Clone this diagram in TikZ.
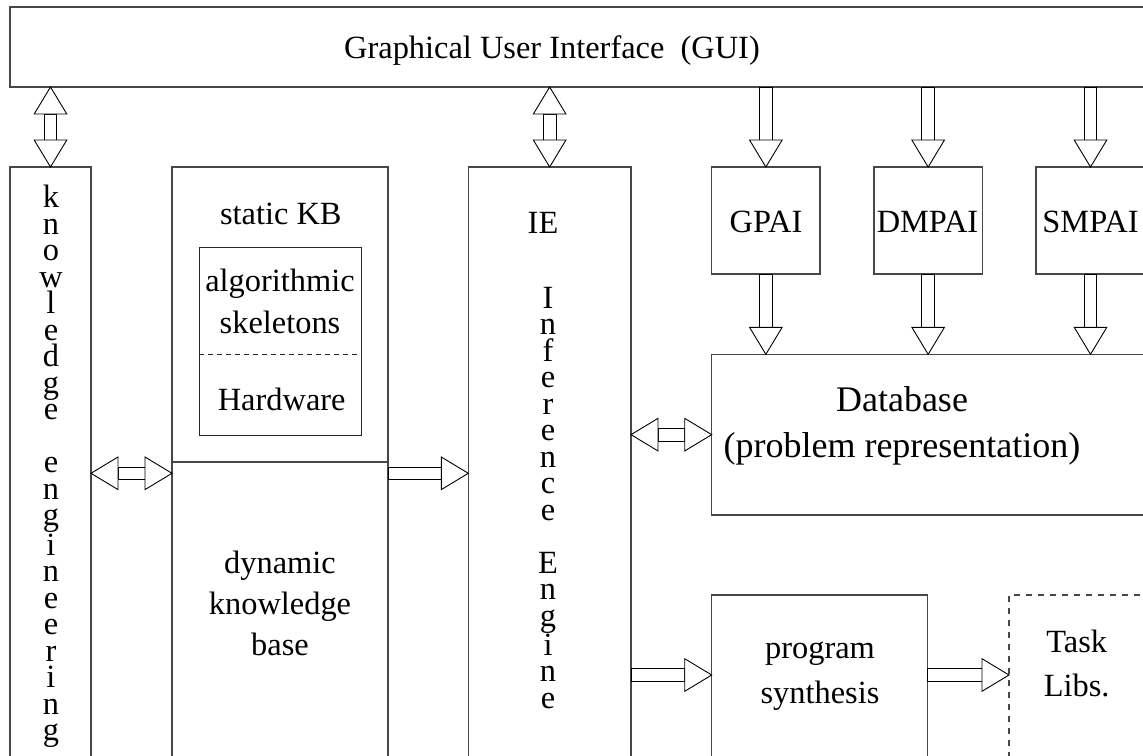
\documentclass[tikz,border=0pt]{standalone}
\usepackage{fontspec}
\setmainfont{Liberation Serif}
\usetikzlibrary{calc}
\newcommand\mkbox[6][]{%
  \node[box,#1,minimum width={#5-#3},minimum height={#6-#4}] (#2) at (#3,#4) {};}
\newcommand\blkone[2]{%
  \coordinate (bh) at ($(#2)!27pt!(#1)$);
  \draw[arr] ($(#1)!6.3pt!90:(#2)$) -- ($(bh)!6.3pt!90:(#2)$) -- ($(bh)!6.3pt!-90:(#2)$) -- ($(#1)!6.3pt!-90:(#2)$) -- cycle;
  \draw[arr] ($(bh)!16.3pt!90:(#2)$) -- (#2) -- ($(bh)!16.3pt!-90:(#2)$) -- cycle;}
\newcommand\blktwo[2]{%
  \coordinate (bt) at ($(#1)!27pt!(#2)$);
  \coordinate (bh) at ($(#2)!27pt!(#1)$);
  \draw[arr] ($(bt)!6.3pt!90:(#2)$) -- ($(bh)!6.3pt!90:(#2)$) -- ($(bh)!6.3pt!-90:(#2)$) -- ($(bt)!6.3pt!-90:(#2)$) -- cycle;
  \draw[arr] ($(bh)!16.3pt!90:(#2)$) -- (#2) -- ($(bh)!16.3pt!-90:(#2)$) -- cycle;
  \draw[arr] ($(bt)!16.3pt!90:(#1)$) -- (#1) -- ($(bt)!16.3pt!-90:(#1)$) -- cycle;}
\begin{document}
\begin{tikzpicture}[x=1pt,y=-1pt,
  box/.style={draw=black!72,line width=1.1pt,inner sep=0pt,outer sep=0pt,anchor=north west},
  arr/.style={draw=black,line width=0.9pt,fill=white,line join=miter},
  txt/.style={font=\fontsize{32.4}{40}\selectfont,inner sep=0pt,align=center},
  vtxt/.style={font=\fontsize{32.4}{26.5}\selectfont,inner sep=0pt,align=center,anchor=north}]
\useasboundingbox (0,0) rectangle (1143,755);
\clip (0,0) rectangle (1143,755);
% boxes
\mkbox{gui}{10}{7}{1170}{87}
\mkbox{ke}{10}{167}{91}{800}
\mkbox{skb}{172}{167}{388}{462}
\mkbox{dkb}{172}{462}{388}{800}
\mkbox[draw=black!85,line width=0.9pt]{inner}{199}{247.7}{361}{435}
\coordinate (dl) at (0,354);
\draw[black!85,line width=0.9pt,dash pattern=on 5pt off 4pt] (inner.west |- dl) -- (inner.east |- dl);
\mkbox{ie}{468.3}{167}{631}{800}
\mkbox{gpai}{711.7}{167}{820}{274}
\mkbox{dmpai}{874}{167}{982.3}{274}
\mkbox{smpai}{1036}{167}{1145}{274}
\mkbox{db}{711.7}{354.3}{1170}{515}
\mkbox{ps}{711.7}{595}{927.7}{800}
\mkbox[dash pattern=on 6pt off 6pt]{tl}{1009}{595}{1170}{800}
% texts
\node[txt,anchor=base] (guit) at (552,58) {Graphical User Interface\ \ (GUI)};
\node[vtxt] (ket) at (51,185) {k\\n\\o\\w\\l\\e\\d\\g\\e\\[26.5pt]e\\n\\g\\i\\n\\e\\e\\r\\i\\n\\g};
\node[txt,anchor=base] (skbt) at (280.8,224) {static KB};
\node[txt,anchor=north,font=\fontsize{32.4}{42.6}\selectfont] (algt) at (280,268.6) {algorithmic\\skeletons};
\node[txt,anchor=base] (hwt) at (281.7,410) {Hardware};
\node[txt,anchor=north,font=\fontsize{32.4}{41}\selectfont] (dkbt) at (280,551) {dynamic\\knowledge\\base};
\node[txt,anchor=base] (iet) at (543,233.3) {IE};
\node[vtxt] (iet2) at (548,286.6) {I\\n\\f\\e\\r\\e\\n\\c\\e\\[26.5pt]E\\n\\g\\i\\n\\e};
\node[txt,anchor=base] (gpait) at (766,232.7) {GPAI};
\node[txt,anchor=base] (dmpait) at (927.5,232.7) {DMPAI};
\node[txt,anchor=base] (smpait) at (1090.5,232.7) {SMPAI};
\node[txt,anchor=north,font=\fontsize{36}{46}\selectfont] (dbt) at (902,386.4) {Database\\(problem representation)};
\node[txt,anchor=north,font=\fontsize{32.4}{45}\selectfont] (pst) at (820,641.4) {program\\synthesis};
\node[txt,anchor=north,font=\fontsize{32.4}{43.3}\selectfont] (tlt) at (1076.7,630.3) {Task\\Libs.};
% connectors
\coordinate (c1) at (gui.south -| ke.north);
\blktwo{c1}{ke.north}
\coordinate (c2) at (gui.south -| ie.north);
\blktwo{c2}{ie.north}
\coordinate (c3) at (gui.south -| gpai.north);
\blkone{c3}{gpai.north}
\coordinate (c4) at (gui.south -| dmpai.north);
\blkone{c4}{dmpai.north}
\coordinate (c5) at (gui.south -| smpai.north);
\blkone{c5}{smpai.north}
\coordinate (c6) at (gpai.south |- db.north);
\blkone{gpai.south}{c6}
\coordinate (c7) at (dmpai.south |- db.north);
\blkone{dmpai.south}{c7}
\coordinate (c8) at (smpai.south |- db.north);
\blkone{smpai.south}{c8}
\coordinate (m1) at (0,473.3);
\coordinate (c9) at (ke.east |- m1);
\coordinate (c10) at (dkb.west |- m1);
\blktwo{c9}{c10}
\coordinate (c11) at (dkb.east |- m1);
\coordinate (c12) at (ie.west |- m1);
\blkone{c11}{c12}
\coordinate (c13) at (ie.east |- db.west);
\blktwo{c13}{db.west}
\coordinate (m2) at (0,675);
\coordinate (c14) at (ie.east |- m2);
\coordinate (c15) at (ps.west |- m2);
\blkone{c14}{c15}
\coordinate (c16) at (ps.east |- m2);
\coordinate (c17) at (tl.west |- m2);
\blkone{c16}{c17}
\end{tikzpicture}
\end{document}
